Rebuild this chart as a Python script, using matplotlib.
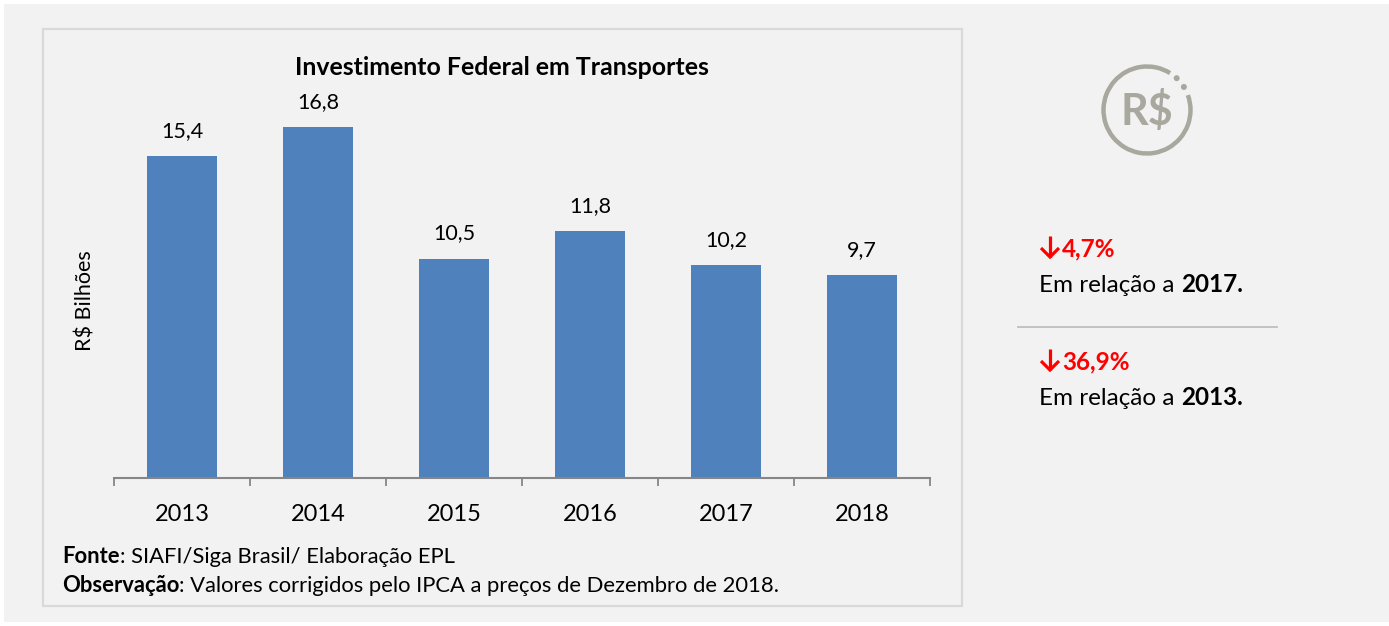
import numpy as np
import matplotlib
matplotlib.use("Agg")
import matplotlib.pyplot as plt
from matplotlib.patches import Rectangle, Arc, Circle

years = ["2013", "2014", "2015", "2016", "2017", "2018"]
values = [15.4, 16.8, 10.5, 11.8, 10.2, 9.7]
value_labels = ["15,4", "16,8", "10,5", "11,8", "10,2", "9,7"]
title = "Investimento Federal em Transportes"
ylabel = "R$ Bilhões"

W, H = 1389, 626
FONT = ["Lato", "DejaVu Sans"]
plt.rcParams["font.family"] = FONT
fig = plt.figure(figsize=(W / 100, H / 100), dpi=100, facecolor="white")

# overlay in pixel coordinates
bg = fig.add_axes([0, 0, 1, 1], zorder=0)
bg.set_xlim(0, W)
bg.set_ylim(H, 0)
bg.axis("off")
bg.add_patch(Rectangle((4, 4), W - 4, H - 8, fc="#f2f2f2", ec="none"))
bg.add_patch(Rectangle((43, 29), 919, 577, fc="#f2f2f2", ec="#d9d9d9", lw=1.6))

# bar chart
x0, x1, yb, yt = 114, 930, 478, 60
ax = fig.add_axes([x0 / W, 1 - yb / H, (x1 - x0) / W, (yb - yt) / H], zorder=1)
ax.patch.set_alpha(0)
pos = list(range(len(years)))
bars = ax.bar(pos, values, width=0.51, color="#4f81bd")
ax.set_xlim(-0.5, 5.5)
ax.set_ylim(0, 20)
for s in ("top", "left", "right"):
    ax.spines[s].set_visible(False)
ax.spines["bottom"].set_color("#868686")
ax.spines["bottom"].set_linewidth(1.5)
ax.set_yticks([])
ax.set_xticks([p - 0.5 for p in pos] + [5.5])
ax.set_xticklabels([])
ax.tick_params(axis="x", length=6, width=1.3, color="#868686")
ax.set_xticks(pos, minor=True)
ax.set_xticklabels(years, minor=True, fontsize=17, color="black")
ax.tick_params(axis="x", which="minor", length=0, pad=18.5)
for p, v, lab in zip(pos, values, value_labels):
    ax.annotate(lab, (p, v), xytext=(0, 15), textcoords="offset pixels",
                ha="center", va="bottom", fontsize=15.5, color="black")

bg.text(502, 67.5, title, ha="center", va="center", fontsize=17.9, fontweight="bold", color="black")
bg.text(85, 301, ylabel, ha="center", va="center", rotation=90, fontsize=15.5, color="black")


def runs(x, y, parts, size):
    """Draw adjacent text runs, starting at pixel x on baseline y."""
    r = fig.canvas.get_renderer()
    for txt, weight, color in parts:
        t = bg.text(x, y, txt, ha="left", va="baseline", fontsize=size,
                    fontweight=weight, color=color)
        adv = t.get_window_extent(r).width
        if txt.endswith(" "):
            probe = bg.text(0, 0, "n n", fontsize=size, fontweight=weight)
            probe2 = bg.text(0, 0, "nn", fontsize=size, fontweight=weight)
            sp = probe.get_window_extent(r).width - probe2.get_window_extent(r).width
            probe.remove(); probe2.remove()
            t2 = bg.text(0, 0, txt.rstrip(), fontsize=size, fontweight=weight)
            adv = t2.get_window_extent(r).width + sp
            t2.remove()
        x += adv


runs(62, 563, [("Fonte", "bold", "black"), (": SIAFI/Siga Brasil/ Elaboração EPL", "normal", "black")], 15.85)
runs(62, 592, [("Observação", "bold", "black"),
               (": Valores corrigidos pelo IPCA a preços de Dezembro de 2018.", "normal", "black")], 15.85)

# right panel
RED = "#ff0000"
SZ = 17.5
for ypos, pct, sentence, year in [(256, "4,7%", "Em relação a ", "2017."),
                                  (369, "36,9%", "Em relação a ", "2013.")]:
    ac = 1050  # down-arrow icon, drawn as stem and chevron
    bg.plot([ac, ac], [ypos - 20, ypos + 1], color=RED, lw=2.3, solid_capstyle="butt")
    bg.plot([ac - 9, ac, ac + 9], [ypos - 8, ypos + 1, ypos - 8], color=RED, lw=2.3,
            solid_joinstyle="miter", solid_capstyle="butt")
    runs(1062, ypos, [(pct, "bold", RED)], SZ)
    runs(1039, ypos + 36, [(sentence, "normal", "black"), (year, "bold", "black")], SZ)
bg.plot([1018, 1277], [327, 327], color="#bfbfbf", lw=1.3)

# R$ icon
G = "#a8a89e"
cx, cy, rad = 1147, 110, 43.5
bg.add_patch(Arc((cx, cy), 2 * rad, 2 * rad, theta1=-20, theta2=302, ec=G, lw=3.2))
for phi in (47, 32):
    a = np.deg2rad(phi)
    bg.add_patch(Circle((cx + rad * np.cos(a), cy - rad * np.sin(a)), 3, fc=G, ec="none"))
bg.text(1147, 111, "R$", ha="center", va="center", fontsize=31, fontweight="bold", color=G)

fig.savefig("out.png", dpi=100, facecolor="white")
